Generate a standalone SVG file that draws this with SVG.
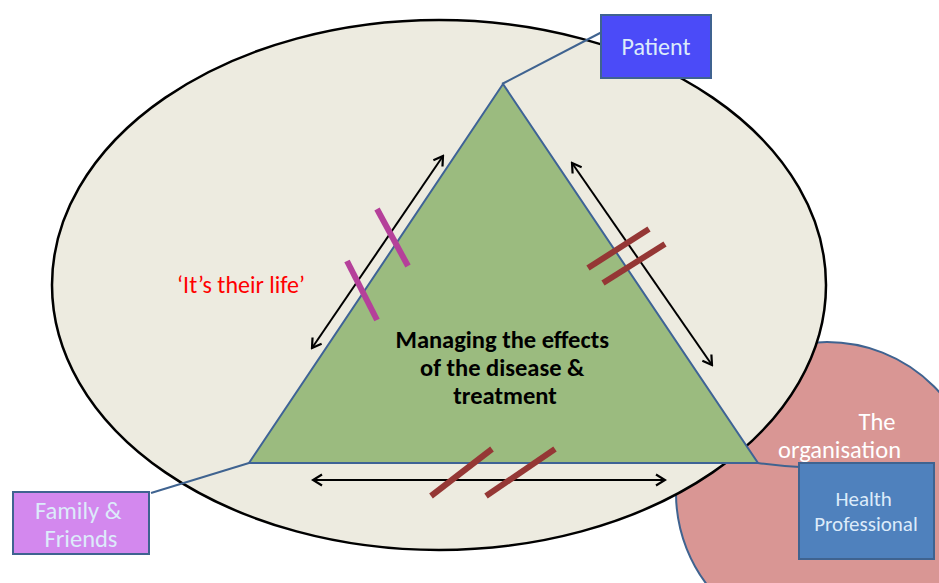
<svg xmlns="http://www.w3.org/2000/svg" width="939" height="583" viewBox="0 0 939 583">
  <style>
    .lbl { font-family: "Calibri", "Carlito", "Liberation Sans", "Open Sans", sans-serif; fill: #DCEBFA; text-anchor: middle; }
    .box { stroke: #3F6390; stroke-width: 2; }
    .link { stroke: #3F6390; stroke-width: 2; fill: none; }
    .arr { stroke: #000; stroke-width: 2; fill: none; marker-start: url(#head); marker-end: url(#head); }
    .tick { stroke-width: 6; fill: none; }
  </style>
  <defs>
    <marker id="head" viewBox="0 0 14 14" refX="12" refY="7" markerWidth="14" markerHeight="14" markerUnits="userSpaceOnUse" orient="auto-start-reverse">
      <path d="M3,1.5 L12,7 L3,12.5" fill="none" stroke="#000" stroke-width="2.2"/>
    </marker>
  </defs>

  <rect width="939" height="583" fill="#fff"/>

  <!-- organisation circle sits behind the main ellipse -->
  <g id="organisation">
    <circle cx="827" cy="493" r="151" fill="#D99694" stroke="#3F6390" stroke-width="2"/>
  </g>

  <g id="life-space">
    <ellipse cx="439" cy="285" rx="387" ry="265" fill="#EDEBE0" stroke="#000" stroke-width="2.5"/>
  </g>

  <g id="triangle">
    <polygon points="503,84 249,463 758,463" fill="#9BBB7F" stroke="#3E6396" stroke-width="2"/>
    <text font-family="Calibri, Carlito, 'Liberation Sans', sans-serif" font-weight="bold" font-size="24.5" text-anchor="middle" fill="#000">
      <tspan x="505" y="348">Managing the effects</tspan>
      <tspan x="505" y="376">of the disease &amp;</tspan>
      <tspan x="505" y="404">treatment</tspan>
    </text>
  </g>

  <g id="connectors">
    <line class="link" x1="502" y1="84" x2="602" y2="32"/>
    <line class="link" x1="249" y1="463" x2="151" y2="493"/>
    <path class="link" d="M758,463 Q780,466 800,467"/>
    <line class="arr" x1="312" y1="348" x2="443" y2="156"/>
    <line class="arr" x1="572" y1="163" x2="712" y2="365"/>
    <line class="arr" x1="313" y1="480" x2="665" y2="480"/>
  </g>

  <g id="barriers">
    <line class="tick" stroke="#B5409A" x1="377" y1="209" x2="408" y2="266"/>
    <line class="tick" stroke="#B5409A" x1="347" y1="261" x2="377" y2="320"/>
    <line class="tick" stroke="#953735" x1="588" y1="268" x2="649" y2="229"/>
    <line class="tick" stroke="#953735" x1="603" y1="283" x2="665" y2="244"/>
    <line class="tick" stroke="#953735" x1="431" y1="496" x2="492" y2="449"/>
    <line class="tick" stroke="#953735" x1="486" y1="496" x2="555" y2="449"/>
  </g>

  <g id="life-label">
    <text x="241" y="293" font-family="Calibri, Carlito, 'Liberation Sans', sans-serif" font-size="24" fill="#FF0000" text-anchor="middle">‘It’s their life’</text>
  </g>

  <g id="organisation-label">
    <text font-family="Calibri, Carlito, 'Liberation Sans', sans-serif" font-size="24.5" fill="#fff" text-anchor="end">
      <tspan x="901" y="430">The</tspan>
      <tspan x="901" y="458">organisation</tspan>
    </text>
  </g>

  <g id="patient">
    <rect class="box" x="601" y="15" width="110" height="63" fill="#4B4BF8"/>
    <text class="lbl" x="656" y="55" font-size="24">Patient</text>
  </g>

  <g id="family">
    <rect class="box" x="13" y="492" width="136" height="62" fill="#D388EE"/>
    <text class="lbl" font-size="24.5">
      <tspan x="81" y="519">Family &amp;</tspan>
      <tspan x="81" y="547">Friends</tspan>
    </text>
  </g>

  <g id="health-professional">
    <rect class="box" x="799" y="463" width="135" height="96" fill="#4F81BD"/>
    <text class="lbl" font-size="21">
      <tspan x="866" y="506">Health</tspan>
      <tspan x="866" y="531">Professional</tspan>
    </text>
  </g>
</svg>
